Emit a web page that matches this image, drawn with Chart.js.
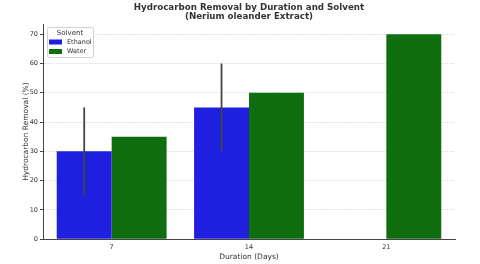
<!DOCTYPE html>
<html><head><meta charset="utf-8">
<script src="https://cdn.jsdelivr.net/npm/chart.js@4/dist/chart.umd.min.js"></script>
<style>html,body{margin:0;padding:0;background:#fff}#wrap{width:480px;height:264px}</style>
</head><body><div id="wrap"><canvas id="c" width="480" height="264"></canvas></div>
<script>
const categories = ['7', '14', '21'];
const seriesNames = ['Ethanol', 'Water'];
const ethanolValues = [30, 45, null];
const waterValues = [35, 50, 70];
const ethanolErrLow = [15, 30, null];
const ethanolErrHigh = [45, 60, null];
const yTicks = [0, 10, 20, 30, 40, 50, 60, 70];
const titleLines = ['Hydrocarbon Removal by Duration and Solvent', '(Nerium oleander Extract)'];

const FONT = 'DejaVu Sans';
const colors = ['#1f1fe0', '#0f6f0f'];

const errorBars = {
  id: 'errorBars',
  afterDatasetsDraw(chart) {
    const ctx = chart.ctx, y = chart.scales.y;
    chart.data.datasets.forEach((ds, di) => {
      if (!ds.errLow) return;
      const meta = chart.getDatasetMeta(di);
      meta.data.forEach((bar, i) => {
        if (ds.errLow[i] == null) return;
        ctx.save();
        ctx.strokeStyle = '#444';
        ctx.lineWidth = 1.8;
        ctx.beginPath();
        ctx.moveTo(bar.x, y.getPixelForValue(ds.errLow[i]));
        ctx.lineTo(bar.x, y.getPixelForValue(ds.errHigh[i]));
        ctx.stroke();
        ctx.restore();
      });
    });
  }
};

const axesTitle = {
  id: 'axesTitle',
  afterDraw(chart) {
    const ctx = chart.ctx, a = chart.chartArea;
    const cx = (a.left + a.right) / 2;
    ctx.save();
    ctx.fillStyle = '#333';
    ctx.font = 'bold 8.7px ' + FONT;
    ctx.textAlign = 'center';
    ctx.textBaseline = 'middle';
    ctx.fillText(titleLines[0], cx, 7.5);
    ctx.fillText(titleLines[1], cx, 17);
    ctx.restore();
  }
};

const boxLegend = {
  id: 'boxLegend',
  afterDraw(chart) {
    const ctx = chart.ctx, a = chart.chartArea;
    const x0 = a.left + 4, y0 = a.top + 3, w = 46, h = 30;
    ctx.save();
    ctx.fillStyle = 'rgba(255,255,255,0.85)';
    ctx.strokeStyle = '#d0d0d0';
    ctx.lineWidth = 1;
    ctx.beginPath();
    ctx.roundRect(x0 + 0.5, y0 + 0.5, w, h, 2);
    ctx.fill(); ctx.stroke();
    ctx.fillStyle = '#333';
    ctx.font = '7px ' + FONT;
    ctx.textAlign = 'center';
    ctx.textBaseline = 'middle';
    ctx.fillText('Solvent', x0 + w / 2, y0 + 6);
    ctx.textAlign = 'left';
    ctx.font = '6.5px ' + FONT;
    chart.data.datasets.forEach((ds, i) => {
      const yy = y0 + 15 + i * 9.5;
      ctx.fillStyle = ds.backgroundColor;
      ctx.fillRect(x0 + 2, yy - 2.5, 13, 5);
      ctx.fillStyle = '#333';
      ctx.fillText(ds.label, x0 + 20, yy);
    });
    ctx.restore();
  }
};

new Chart(document.getElementById('c'), {
  type: 'bar',
  data: {
    labels: categories,
    datasets: [
      { label: seriesNames[0], data: ethanolValues, backgroundColor: colors[0], errLow: ethanolErrLow, errHigh: ethanolErrHigh,
        borderColor: '#fff', borderWidth: 0 },
      { label: seriesNames[1], data: waterValues, backgroundColor: colors[1], borderColor: '#fff', borderWidth: 0 }
    ]
  },
  options: {
    responsive: false,
    animation: false,
    layout: { padding: { left: 22, right: 25, top: 24, bottom: 2 } },
    datasets: { bar: { categoryPercentage: 0.8, barPercentage: 1.0 } },
    plugins: {
      legend: { display: false },
      tooltip: { enabled: false },
      title: { display: false }
    },
    scales: {
      x: {
        grid: { display: false, drawTicks: true, tickLength: 3 },
        border: { display: true, color: '#444', width: 1 },
        ticks: { color: '#333', font: { family: FONT, size: 6.5 }, padding: 1 },
        title: { display: true, text: 'Duration (Days)', color: '#333', font: { family: FONT, size: 7.5 }, padding: { top: 1, bottom: 0 } }
      },
      y: {
        min: 0, max: 73.5,
        afterBuildTicks(s) { s.ticks = yTicks.map(v => ({ value: v })); },
        afterFit(s) { s.width = 21; },
        grid: { color: '#e2e2e2', drawTicks: true, tickLength: 3, tickColor: '#444' },
        border: { display: true, color: '#444', width: 1, dash: [2, 1] },
        ticks: { color: '#333', font: { family: FONT, size: 6.5 }, padding: 2 },
        title: { display: true, text: 'Hydrocarbon Removal (%)', color: '#333', font: { family: FONT, size: 7.5 }, padding: { top: 0, bottom: 2 } }
      }
    }
  },
  plugins: [errorBars, axesTitle, boxLegend]
});
</script></body></html>
